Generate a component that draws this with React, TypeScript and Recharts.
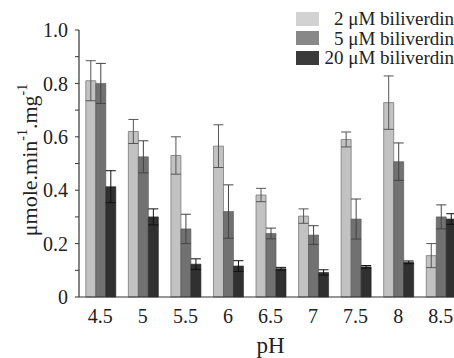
import React from 'react';
import { BarChart, Bar, XAxis, YAxis, ErrorBar, Legend } from 'recharts';

const categories = ['4.5', '5', '5.5', '6', '6.5', '7', '7.5', '8', '8.5'];
const bili2 = [0.81, 0.62, 0.53, 0.565, 0.382, 0.303, 0.59, 0.728, 0.155];
const bili2Err = [0.075, 0.045, 0.07, 0.08, 0.025, 0.027, 0.028, 0.1, 0.045];
const bili5 = [0.8, 0.525, 0.255, 0.32, 0.238, 0.232, 0.292, 0.507, 0.3];
const bili5Err = [0.075, 0.06, 0.055, 0.1, 0.02, 0.035, 0.075, 0.07, 0.045];
const bili20 = [0.413, 0.3, 0.123, 0.116, 0.106, 0.092, 0.113, 0.13, 0.292];
const bili20Err = [0.06, 0.03, 0.02, 0.02, 0.005, 0.01, 0.005, 0.005, 0.02];
const yTicks = [0, 0.1, 0.2, 0.3, 0.4, 0.5, 0.6, 0.7, 0.8, 0.9, 1.0];
const edgeTicks = [0, 1, 2, 3, 4, 5, 6, 7, 8, 9];
const seriesNames = ['2 \u03bcM biliverdin', '5 \u03bcM biliverdin', '20 \u03bcM biliverdin'];

const data = categories.map((c, i) => ({
  ph: c,
  b2: bili2[i],
  e2: bili2Err[i],
  b5: bili5[i],
  e5: bili5Err[i],
  b20: bili20[i],
  e20: bili20Err[i],
}));

const FONT = '"Liberation Serif", "Times New Roman", serif';
const legendColors = ['#d2d2d2', '#888888', '#3a3a3a'];

const LegendContent = () => (
  <div style={{ fontFamily: FONT, fontSize: 19, color: '#222' }}>
    {seriesNames.map((n, i) => (
      <div key={n} style={{ display: 'flex', alignItems: 'center', height: 19.5 }}>
        <div style={{ width: 23, height: 14, background: legendColors[i] }} />
        <div style={{ width: 135, textAlign: 'right', lineHeight: '19px' }}>{n}</div>
      </div>
    ))}
  </div>
);

const YLabel = () => (
  <text
    transform="translate(37,160) rotate(-90)"
    textAnchor="middle"
    fontFamily={FONT}
    fontSize={22}
    fill="#222"
  >
    <tspan>{'\u03bcmole.min'}</tspan>
    <tspan fontSize={14} dy={-10}>-1</tspan>
    <tspan dy={10}>.mg</tspan>
    <tspan fontSize={14} dy={-10}>-1</tspan>
  </text>
);

export default function App() {
  return (
    <div style={{ position: 'absolute', left: 0, top: 0, width: 454, height: 358, overflow: 'hidden', background: '#fff' }}>
      <BarChart
        width={462}
        height={358}
        data={data}
        margin={{ top: 30, right: 0, bottom: 0, left: 0 }}
        barCategoryGap="16%"
        barGap={0}
      >
        <XAxis
          xAxisId="edge"
          type="number"
          domain={[0, 9]}
          ticks={edgeTicks}
          height={0}
          axisLine={false}
          tickLine={{ stroke: '#333', strokeWidth: 1.2 }}
          tickSize={4}
          tickFormatter={() => ''}
          allowDataOverflow
        />
        <XAxis
          dataKey="ph"
          height={61}
          axisLine={{ stroke: '#333', strokeWidth: 1.2 }}
          tickLine={false}
          tickMargin={6}
          tick={{ fontFamily: FONT, fontSize: 20, fill: '#222' }}
          interval={0}
          label={{ value: 'pH', position: 'insideBottom', offset: 5, style: { fontFamily: FONT, fontSize: 23, fill: '#222' } }}
        />
        <YAxis
          width={79}
          domain={[0, 1]}
          ticks={yTicks}
          interval={0}
          tickSize={4}
          tickMargin={7}
          axisLine={{ stroke: '#333', strokeWidth: 1.2 }}
          tickLine={{ stroke: '#333' }}
          tick={{ fontFamily: FONT, fontSize: 20, fill: '#222' }}
          tickFormatter={(v: number) => {
            const k = Math.round(v * 10);
            if (k % 2 !== 0) return '';
            if (k === 0) return '0';
            return v.toFixed(1);
          }}
          label={<YLabel />}
        />
        <Legend
          layout="vertical"
          align="center"
          verticalAlign="middle"
          wrapperStyle={{ top: 9, left: 296, width: 160 }}
          content={<LegendContent />}
        />
        <Bar dataKey="b2" name={seriesNames[0]} fill="#c2c2c2" stroke="#7a7a7a" strokeWidth={0.8} isAnimationActive={false}>
          <ErrorBar dataKey="e2" width={5} stroke="#555" strokeWidth={1} />
        </Bar>
        <Bar dataKey="b5" name={seriesNames[1]} fill="#717171" stroke="#555" strokeWidth={0.6} isAnimationActive={false}>
          <ErrorBar dataKey="e5" width={5} stroke="#444" strokeWidth={1} />
        </Bar>
        <Bar dataKey="b20" name={seriesNames[2]} fill="#303030" stroke="#222" strokeWidth={0.6} isAnimationActive={false}>
          <ErrorBar dataKey="e20" width={5} stroke="#111" strokeWidth={1} />
        </Bar>
      </BarChart>
    </div>
  );
}
